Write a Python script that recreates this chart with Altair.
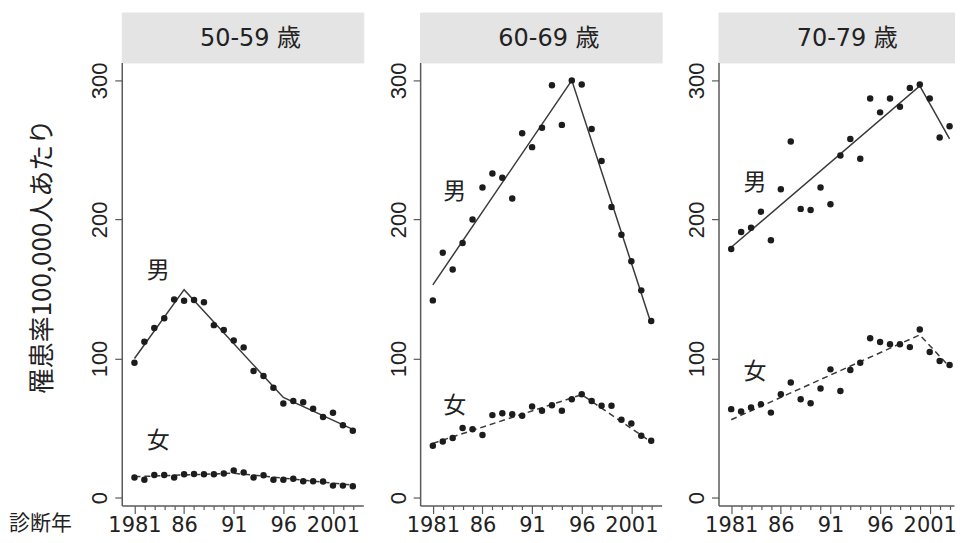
import altair as alt
import pandas as pd

# ---------------- data ----------------
years = list(range(1981, 2004))
ages = ["50-59 歳", "60-69 歳", "70-79 歳"]

male_50 = [97, 112, 122, 129, 142.5, 141.5, 142, 140.5, 124, 120.5, 113, 108, 91, 87.5,
           79, 67.6, 69.4, 68.5, 63.8, 58, 61, 52, 48]
female_50 = [14.5, 12.8, 16.3, 16.3, 14.5, 16.7, 16.9, 16.8, 16.8, 17.3, 19.5, 18, 14.4, 16,
             12.8, 12.8, 13.5, 11.8, 11.8, 11.5, 8.6, 8.6, 8.2]
male_60 = [141.8, 176, 164, 183, 200, 223, 233, 230, 215, 262, 252, 266, 296.5, 268,
           300, 297, 265, 242, 209, 189, 170, 149, 127]
female_60 = [37.3, 40.4, 42.8, 50, 49.2, 45, 59.3, 60.7, 60, 58.8, 65.5, 62.4, 66.4, 62.4,
             70.7, 74.3, 69.5, 66, 66, 55.9, 53.3, 44.4, 40.9]
male_70 = [178.7, 191, 194, 205.6, 185, 221.7, 256, 207.6, 206.8, 223, 211, 246, 257.8, 243.6,
           287, 277, 287, 281, 294.6, 297, 287, 259, 267]
female_70 = [63.6, 61.9, 64.7, 67.1, 61.1, 74.3, 82.7, 70.7, 67.9, 78.4, 92.2, 76.7, 91.8, 97,
             114.5, 111.8, 110.2, 110.2, 108.2, 120.9, 104.7, 98.2, 95.3]

# joinpoint fitted lines
male_fit_x = [[1981, 1986, 1996, 2003], [1981, 1995, 2003], [1981, 2000, 2003]]
male_fit_y = [[100, 149.5, 72, 49], [153, 300, 125], [180, 296, 258]]
female_fit_x = [[1981, 1991, 2003], [1981, 1996, 2003], [1981, 2000, 2003]]
female_fit_y = [[15, 17.5, 9], [39, 74, 40], [56, 117, 94]]

# in-panel labels
label_x = [1983.4, 1983.2, 1983.4]
male_label_y = [163, 220, 226]
female_label_y = [41, 66, 90]

major_years = [1981, 1986, 1991, 1996, 2001]
major_labels = ["1981", "86", "91", "96", "2001"]
y_ticks = [0, 100, 200, 300]

y_title = "罹患率100,000人あたり"
x_title = "診断年"

males = [male_50, male_60, male_70]
females = [female_50, female_60, female_70]

# ---------------- style ----------------
CJK = "Noto Sans CJK JP"
NUM = "DejaVu Sans, Noto Sans CJK JP"
YNUM = "Liberation Sans Narrow, Liberation Sans"
INK = "#222222"
AXIS = "#5a5a5a"

H, STRIP_H = 444, 50
widths = [242, 242, 236]          # last panel is cut by the page edge
X0, PX_PER_YEAR = 1979.72, 242 / (2004.05 - 1979.72)
yscale = alt.Scale(domain=[-5.7, 312.9], nice=False, zero=False)

label_expr = "".join(f"datum.value == {y} ? '{l}' : " for y, l in zip(major_years, major_labels)) + "''"
major_test = " || ".join(f"datum.value == {y}" for y in major_years)


def x_axis(first):
    kw = dict(values=years, labelExpr=label_expr,
              tickSize={"condition": {"test": major_test, "value": 8}, "value": 4},
              tickColor=AXIS, tickWidth=1.2, domainColor=AXIS, domainWidth=1.5,
              labelFont=NUM, labelFontSize=21, labelColor=INK, labelPadding=1,
              labelFlush=False, labelOverlap=False, grid=False)
    if first:
        kw.update(title=x_title, titleFont=CJK, titleFontSize=21, titleFontWeight="normal",
                  titleColor=INK, titleX=-82, titleY=18, titleAlign="center",
                  titleBaseline="middle", titleAngle=0)
    else:
        kw.update(title=None)
    return alt.Axis(**kw)


def y_axis(first):
    kw = dict(values=y_ticks, tickSize=7, tickColor=AXIS, tickWidth=1.2, domainColor=AXIS,
              domainWidth=1.5, labelFont=YNUM, labelFontSize=22, labelColor=INK,
              labelAngle=270, labelAlign="center", labelBaseline="bottom", labelPadding=3,
              grid=False)
    if first:
        kw.update(title=y_title, titleFont=CJK, titleFontSize=26, titleFontWeight="normal",
                  titleColor=INK, titleX=-79, titleY=194, titleAngle=270, titleAlign="center",
                  titleBaseline="middle")
    else:
        kw.update(title=None, minExtent=32, maxExtent=32)
    return alt.Axis(**kw)


def panel(i):
    first = i == 0
    W = widths[i]
    xscale = alt.Scale(domain=[X0, X0 + W / PX_PER_YEAR], nice=False, zero=False)
    x = alt.X("year:Q", scale=xscale, axis=x_axis(first))
    y = alt.Y("rate:Q", scale=yscale, axis=y_axis(first))

    pts = pd.DataFrame({"year": years * 2, "rate": males[i] + females[i],
                        "sex": ["男"] * len(years) + ["女"] * len(years)})
    mfit = pd.DataFrame({"year": male_fit_x[i], "rate": male_fit_y[i]})
    ffit = pd.DataFrame({"year": female_fit_x[i], "rate": female_fit_y[i]})
    labs = pd.DataFrame({"year": [label_x[i], label_x[i]],
                         "rate": [male_label_y[i], female_label_y[i]],
                         "txt": ["男", "女"]})

    m_line = alt.Chart(mfit).mark_line(color="#3a3a3a", strokeWidth=1.5).encode(x=x, y=y)
    f_line = alt.Chart(ffit).mark_line(color="#3a3a3a", strokeWidth=1.5,
                                       strokeDash=[6, 4]).encode(x=x, y=y)
    dots = alt.Chart(pts).mark_circle(size=42, color="#1c1c1c", opacity=1).encode(x=x, y=y)
    texts = alt.Chart(labs).mark_text(font=CJK, fontSize=23, color=INK,
                                      baseline="middle", align="center").encode(
        x=x, y=y, text="txt:N")

    main = alt.layer(m_line, f_line, dots, texts).properties(width=W, height=H)

    strip = alt.Chart(pd.DataFrame({"label": [ages[i]]})).mark_text(
        font=NUM, fontSize=24, color=INK, baseline="middle", align="center"
    ).encode(text="label:N", x=alt.value(129), y=alt.value(27)).properties(
        width=W, height=STRIP_H, view=alt.ViewBackground(fill="#e4e4e4", stroke="#e4e4e4"))

    return alt.vconcat(strip, main, spacing=0, bounds="flush")


chart = alt.hconcat(panel(0), panel(1), panel(2), spacing=23).properties(
    padding={"left": 0, "top": 3, "right": 0, "bottom": 0},
    background="white",
).configure_view(stroke=None)

chart.save("out.html", embed_options={"renderer": "svg", "actions": False})
